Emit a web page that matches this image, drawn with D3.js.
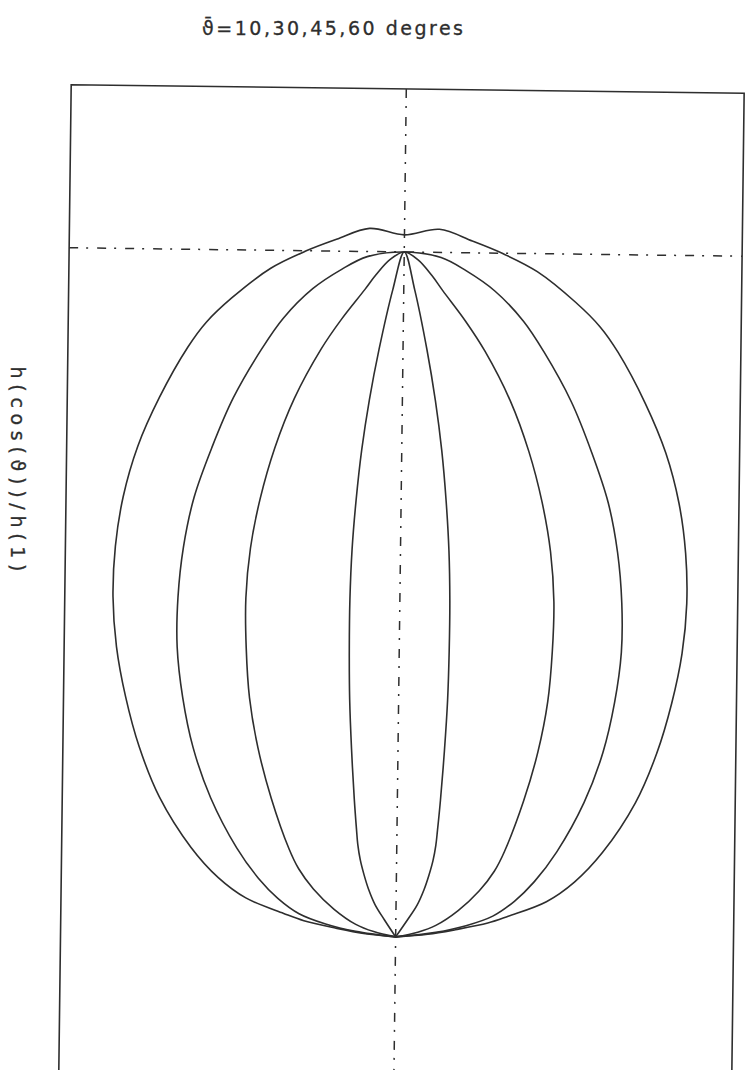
<!DOCTYPE html>
<html>
<head>
<meta charset="utf-8">
<script src="https://cdn.jsdelivr.net/npm/d3@7"></script>
<style>
  html, body { margin: 0; padding: 0; background: #fff; }
  svg { display: block; }
</style>
</head>
<body>
<svg id="chart" width="754" height="1070"></svg>
<script>
// Mean angles of the four distributions (degrees)
const thetaBars = [10, 30, 45, 60];

// Polar samples of h(cos θ)/h(1): angle from the symmetry axis (degrees) and radius.
// Each curve is symmetric about θ = 0, so only θ ≥ 0 is listed; the last sample is the origin.
const angle10 = [0, 0.97, 2.34, 3.52, 4.70, 5.88, 7.14, 8.44, 9.88, 11.68, 13.96, 17.43, 20.73, 22.97, 25.36, 27.66, 30.33, 33.27, 34.08, 34.5];
const ratio10 = [1.0, 0.945, 0.858, 0.785, 0.713, 0.641, 0.569, 0.497, 0.425, 0.353, 0.281, 0.210, 0.167, 0.146, 0.124, 0.102, 0.080, 0.056, 0.030, 0];

const angle30 = [0, 1.18, 2.42, 3.45, 5.74, 7.95, 11.37, 14.62, 17.88, 21.19, 24.56, 28.06, 32.16, 36.82, 42.61, 51.15, 55.64, 60.48, 66.46, 73.3, 77.2, 80];
const ratio30 = [1.0, 0.989, 0.967, 0.946, 0.905, 0.865, 0.800, 0.735, 0.670, 0.606, 0.541, 0.475, 0.409, 0.341, 0.272, 0.202, 0.173, 0.139, 0.099, 0.061, 0.033, 0];

const angle45 = [0, 3.11, 5.31, 8.01, 11.01, 13.51, 17.47, 21.31, 25.35, 29.28, 33.37, 37.72, 42.35, 47.63, 53.77, 61.46, 67.56, 72.59, 77.22, 80.27, 82.87, 85];
const ratio45 = [1.0, 0.994, 0.978, 0.954, 0.918, 0.881, 0.822, 0.763, 0.706, 0.648, 0.589, 0.530, 0.468, 0.405, 0.338, 0.266, 0.218, 0.181, 0.145, 0.104, 0.059, 0];

const angle60 = [0, 2.83, 5.57, 8.14, 11.30, 15.11, 17.84, 20.12, 24.35, 28.46, 32.46, 36.37, 40.42, 44.60, 49.04, 54.17, 60.07, 67.10, 72.24, 76.14, 78.89, 80.74, 82.41, 84.64, 87];
const ratio60 = [1.025, 1.035, 1.022, 1.010, 0.993, 0.963, 0.939, 0.913, 0.860, 0.809, 0.756, 0.702, 0.646, 0.588, 0.528, 0.466, 0.401, 0.326, 0.273, 0.226, 0.167, 0.136, 0.088, 0.047, 0];

const curveAngles = [angle10, angle30, angle45, angle60];
const curveRatios = [ratio10, ratio30, ratio45, ratio60];

// Plot window in data units (radius 1 on the axis)
const xDomain = [-0.489, 0.493];
const yDomain = [-0.2, 1.238];

const titleText = "\u03d1\u0304=" + thetaBars.join(",") + " degres";
const yLabelText = "h(cos(\u03d1))/h(1)";

const ink = "#2e2e2e";
const svg = d3.select("#chart");

const x = d3.scaleLinear().domain(xDomain).range([65, 738]);
const y = d3.scaleLinear().domain(yDomain).range([1074, 89]);
const r = d3.scaleLinear().domain([0, 1]).range([0, y(0) - y(1)]);

// Whole plot is drawn slightly tilted, as on the plotter sheet
const plot = svg.append("g").attr("transform", "rotate(0.72, 407, 580)");

// Frame
plot.append("path")
  .attr("d", `M${x(xDomain[0])},${y(yDomain[0]) + 10}V${y(yDomain[1])}H${x(xDomain[1])}V${y(yDomain[0]) + 10}`)
  .attr("fill", "none")
  .attr("stroke", ink)
  .attr("stroke-width", 1.6);

// Axis lines: θ = 0 direction and unit radius
const dashDot = "9,8,2,9";
plot.append("line")
  .attr("x1", x(0)).attr("x2", x(0))
  .attr("y1", y(yDomain[1])).attr("y2", y(yDomain[0]) + 10)
  .attr("stroke", ink).attr("stroke-width", 1.5)
  .attr("stroke-dasharray", dashDot);
plot.append("line")
  .attr("x1", x(xDomain[0])).attr("x2", x(xDomain[1]))
  .attr("y1", y(1)).attr("y2", y(1))
  .attr("stroke", ink).attr("stroke-width", 1.5)
  .attr("stroke-dasharray", dashDot);

// Polar curves, origin at the bottom of the loops, θ = 0 pointing up
const radial = d3.lineRadial()
  .angle(d => d.a * Math.PI / 180)
  .radius(d => r(d.v))
  .curve(d3.curveCatmullRom.alpha(0.5));

const curvesG = plot.append("g").attr("transform", `translate(${x(0)},${y(0)})`);

curveAngles.forEach((angs, i) => {
  const vals = curveRatios[i];
  const half = angs.map((a, j) => ({ a, v: vals[j] }));
  const full = half.slice(1).reverse().map(d => ({ a: -d.a, v: d.v })).concat(half);
  curvesG.append("path")
    .attr("d", radial(full))
    .attr("fill", "none")
    .attr("stroke", ink)
    .attr("stroke-width", 1.6)
    .attr("stroke-linejoin", "round");
});

// Title
svg.append("text")
  .attr("x", 202).attr("y", 35)
  .attr("font-family", "DejaVu Sans")
  .attr("font-size", 19)
  .attr("fill", ink)
  .attr("stroke", ink).attr("stroke-width", 0.3)
  .attr("textLength", 261)
  .attr("lengthAdjust", "spacing")
  .text(titleText);

// Vertical axis label, reading downward
svg.append("text")
  .attr("transform", "translate(11, 469) rotate(90)")
  .attr("text-anchor", "middle")
  .attr("font-family", "DejaVu Sans")
  .attr("font-size", 19)
  .attr("fill", ink)
  .attr("stroke", ink).attr("stroke-width", 0.3)
  .attr("textLength", 205)
  .attr("lengthAdjust", "spacing")
  .text(yLabelText);
</script>
</body>
</html>
